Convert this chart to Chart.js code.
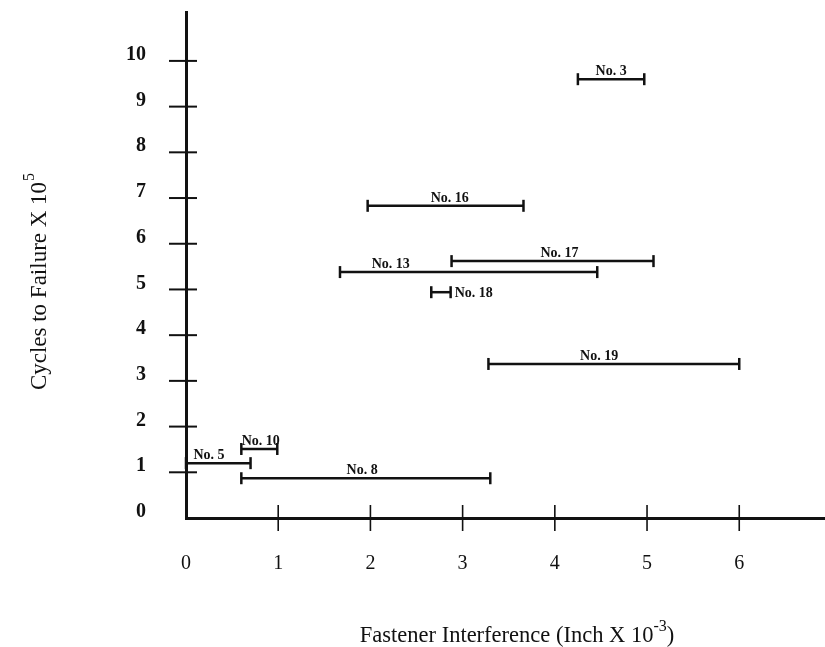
<!DOCTYPE html>
<html><head><meta charset="utf-8">
<script src="https://cdn.jsdelivr.net/npm/chart.js@4/dist/chart.umd.min.js"></script>
<style>html,body{margin:0;padding:0;background:#fff;overflow:hidden}#wrap{width:825px;height:647px;position:relative}canvas{display:block}</style>
</head><body><div id="wrap"><canvas id="c" width="825" height="647"></canvas></div>
<script>
// Data (interference in inch x 10^-3, cycles in x 10^5)
const specimens       = ['No. 3', 'No. 16', 'No. 17', 'No. 13', 'No. 18', 'No. 19', 'No. 10', 'No. 5', 'No. 8'];
const interferenceMin = [4.25, 1.97, 2.88, 1.67, 2.66, 3.28, 0.60, 0.00, 0.60];
const interferenceMax = [4.97, 3.66, 5.07, 4.46, 2.87, 6.00, 0.99, 0.70, 3.30];
const cyclesToFailure = [9.60, 6.83, 5.62, 5.38, 4.94, 3.37, 1.51, 1.20, 0.87];
const labelAtX        = [4.61, 2.86, 4.05, 2.22, 2.87, 4.48, 0.81, 0.25, 1.91];
const labelSide       = ['above', 'above', 'above', 'above', 'right', 'above', 'above', 'above', 'above'];
const xTickValues = [0, 1, 2, 3, 4, 5, 6];
const yTickValues = [0, 1, 2, 3, 4, 5, 6, 7, 8, 9, 10];
const xTitle = 'Fastener Interference (Inch X 10';
const xTitleSup = '-3';
const xTitleEnd = ')';
const yTitle = 'Cycles to Failure X 10';
const yTitleSup = '5';

const SERIF = '"Liberation Serif", "Times New Roman", serif';
const INK = '#111';

const datasets = specimens.map((name, i) => ({
  label: name,
  data: [{x: interferenceMin[i], y: cyclesToFailure[i]}, {x: interferenceMax[i], y: cyclesToFailure[i]}],
  borderColor: INK,
  borderWidth: 2.5,
  pointStyle: 'line',
  pointRotation: 90,
  pointRadius: 6,
  pointHoverRadius: 6,
  pointBorderWidth: 2.5,
  pointBorderColor: INK,
  pointBackgroundColor: INK,
  fill: false,
  tension: 0,
  clip: false
}));

const decorPlugin = {
  id: 'decor',
  afterDatasetsDraw(chart) {
    const ctx = chart.ctx, xs = chart.scales.x, ys = chart.scales.y, ca = chart.chartArea;
    ctx.save();
    ctx.strokeStyle = INK;
    ctx.lineWidth = 2;
    yTickValues.forEach(v => {
      if (v === 0) return;
      const py = ys.getPixelForValue(v);
      ctx.beginPath(); ctx.moveTo(ca.left - 17, py); ctx.lineTo(ca.left + 11, py); ctx.stroke();
    });
    ctx.lineWidth = 1.6;
    xTickValues.forEach(v => {
      if (v === 0) return;
      const px = xs.getPixelForValue(v);
      ctx.beginPath(); ctx.moveTo(px, ca.bottom - 13); ctx.lineTo(px, ca.bottom + 13); ctx.stroke();
    });
    ctx.fillStyle = INK;
    ctx.font = 'bold 14px ' + SERIF;
    specimens.forEach((name, i) => {
      const py = ys.getPixelForValue(cyclesToFailure[i]);
      if (labelSide[i] === 'right') {
        ctx.textAlign = 'left'; ctx.textBaseline = 'middle';
        ctx.fillText(name, xs.getPixelForValue(labelAtX[i]) + 4, py + 1);
      } else {
        ctx.textAlign = 'center'; ctx.textBaseline = 'alphabetic';
        ctx.fillText(name, xs.getPixelForValue(labelAtX[i]), py - 4);
      }
    });
    ctx.restore();
  },
  afterDraw(chart) {
    const ctx = chart.ctx;
    ctx.save();
    ctx.fillStyle = INK;
    ctx.textBaseline = 'alphabetic';
    ctx.textAlign = 'left';
    const xFont = '22.5px ' + SERIF, supFont = '16px ' + SERIF;
    ctx.font = xFont; const w1 = ctx.measureText(xTitle).width;
    const w3 = ctx.measureText(xTitleEnd).width;
    ctx.font = supFont; const w2 = ctx.measureText(xTitleSup).width;
    const x0 = 517 - (w1 + w2 + w3) / 2, by = 642;
    ctx.font = xFont; ctx.fillText(xTitle, x0, by);
    ctx.font = supFont; ctx.fillText(xTitleSup, x0 + w1, by - 11);
    ctx.font = xFont; ctx.fillText(xTitleEnd, x0 + w1 + w2, by);
    const yFont = '23px ' + SERIF;
    ctx.font = yFont; const v1 = ctx.measureText(yTitle).width;
    ctx.font = supFont; const v2 = ctx.measureText(yTitleSup).width;
    ctx.translate(46, 282);
    ctx.rotate(-Math.PI / 2);
    const s = -(v1 + v2) / 2;
    ctx.font = yFont; ctx.fillText(yTitle, s, 0);
    ctx.font = supFont; ctx.fillText(yTitleSup, s + v1 + 1, -12);
    ctx.restore();
  }
};

function zeroPad(s) { s.paddingTop = 0; s.paddingBottom = 0; s.paddingLeft = 0; s.paddingRight = 0; }

new Chart(document.getElementById('c'), {
  type: 'line',
  data: { datasets },
  options: {
    responsive: false,
    animation: false,
    devicePixelRatio: 1,
    layout: { autoPadding: false, padding: { top: 12, right: 0, left: 0, bottom: 0 } },
    plugins: { legend: { display: false }, tooltip: { enabled: false } },
    scales: {
      x: {
        type: 'linear', min: 0, max: 6.93,
        grid: { display: false },
        border: { display: true, color: INK, width: 3 },
        ticks: { color: INK, font: { family: SERIF, size: 20 }, padding: 26, autoSkip: false, maxRotation: 0 },
        afterBuildTicks: s => { s.ticks = xTickValues.map(v => ({ value: v })); },
        afterFit: s => { s.height = 129; zeroPad(s); }
      },
      y: {
        type: 'linear', min: 0, max: 11.07,
        grid: { display: false },
        border: { display: true, color: INK, width: 3 },
        ticks: { color: INK, font: { family: SERIF, size: 20, weight: 'bold' }, padding: 32, labelOffset: -6, autoSkip: false },
        afterBuildTicks: s => { s.ticks = yTickValues.map(v => ({ value: v })); },
        afterFit: s => { s.width = 186; zeroPad(s); }
      }
    }
  },
  plugins: [decorPlugin]
});
</script>
</body></html>
